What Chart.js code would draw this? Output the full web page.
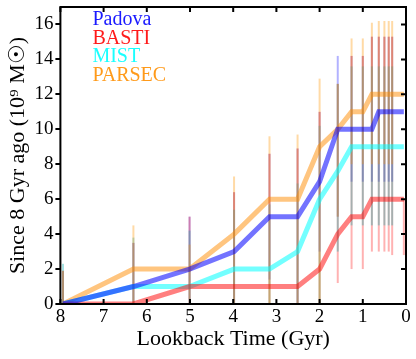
<!DOCTYPE html>
<html>
<head>
<meta charset="utf-8">
<script src="https://cdn.jsdelivr.net/npm/chart.js@4.4.0/dist/chart.umd.min.js"></script>
<style>
  body { margin: 0; background: #fff; }
  #wrap { width: 416px; height: 359px; }
</style>
</head>
<body>
<div id="wrap"><canvas id="sfhChart" width="416" height="359"></canvas></div>
<script>
// lookback time of each bin (Gyr)
var bins = [7.94, 6.31, 5.01, 3.98, 3.16, 2.51, 2.0, 1.58, 1.26, 1.0, 0.79, 0.63, 0.50, 0.40, 0.32, 0.05];

var labels = ["Padova", "BASTI", "MIST", "PARSEC"];

// cumulative mass formed since 8 Gyr ago (1e9 Msun)
var padova = [0, 1, 2, 3, 5, 5, 7, 10, 10, 10, 10, 11, 11, 11, 11, 11];
var basti  = [0, 0, 1, 1, 1, 1, 2, 4, 5, 5, 6, 6, 6, 6, 6, 6];
var mist   = [0, 1, 1, 2, 2, 3, 6, 7.6, 9, 9, 9, 9, 9, 9, 9, 9];
var parsec = [0, 2, 2, 4, 6, 6, 9, 10, 11, 11, 12, 12, 12, 12, 12, 12];

// error bar ranges
var padovaLo = [0, 0, 0, 0, 1.4, 0, 3, 5, 7, 7, 7, 7, 7, 7, 7, null];
var padovaHi = [1.9, 3.5, 5.0, 6.4, 8.6, 8.9, 11.0, 14.2, 14.2, 14.2, 15.3, 15.3, 15.3, 15.3, 15.3, null];
var bastiLo  = [0, 0, 0, 0, 0, 0, 0, 1.2, 2.0, 2.0, 3.0, 3.0, 3.0, 3.0, 2.8, 2.8];
var bastiHi  = [1.9, 3.5, 5.0, 6.4, 8.6, 8.9, 11.0, 12.6, 14.2, 14.2, 15.3, 15.3, 15.3, 15.3, 15.3, 6];
var mistLo   = [0, 0, 0, 0, 0, 0, 0, 3, 4.5, 4.5, 4.5, 4.5, 4.5, 4.5, 4.5, null];
var mistHi   = [2.3, 3.8, 4.2, 5.4, 5.7, 6.9, 10.2, 12.6, 13.6, 13.6, 13.6, 13.6, 13.6, 13.6, 13.6, null];
var parsecLo = [0, 0, 0, 0, 0, 0, 0, 5, 8, 8, 8, 8, 8, 8, 8, null];
var parsecHi = [1.9, 4.5, 3.4, 7.3, 9.6, 9.7, 12.9, 12.6, 15.2, 15.2, 16.1, 16.2, 16.2, 16.2, 16.2, null];

var xTicks = [8, 7, 6, 5, 4, 3, 2, 1, 0];
var yTicks = [0, 2, 4, 6, 8, 10, 12, 14, 16];

var lineColors = ["rgba(0,0,255,0.55)", "rgba(255,0,0,0.5)", "rgba(0,255,255,0.55)", "rgba(255,140,0,0.5)"];
var barColors = ["rgba(0,0,255,0.3)", "rgba(255,0,0,0.3)", "rgba(0,170,170,0.35)", "rgba(255,150,0,0.35)"];
var textColors = ["#1a1aff", "#ff1a1a", "#1affff", "#ff9a1a"];

var serif = "'Liberation Serif', 'DejaVu Serif', serif";

function points(ys) {
    return bins.map(function (b, i) { return { x: b, y: ys[i] }; });
}

var values = [padova, basti, mist, parsec];
var errLo = [padovaLo, bastiLo, mistLo, parsecLo];
var errHi = [padovaHi, bastiHi, mistHi, parsecHi];

// error bars, frame, inward ticks and text legend
var decor = {
    id: "decor",
    beforeDatasetsDraw: function (chart) {
        var ctx = chart.ctx, xs = chart.scales.x, ys = chart.scales.y;
        ctx.save();
        ctx.lineWidth = 2;
        for (var s = 0; s < values.length; s++) {
            ctx.strokeStyle = barColors[s];
            for (var i = 0; i < bins.length; i++) {
                if (errLo[s][i] === null || errHi[s][i] === null) continue;
                var px = xs.getPixelForValue(bins[i]);
                ctx.beginPath();
                ctx.moveTo(px, ys.getPixelForValue(errLo[s][i]));
                ctx.lineTo(px, ys.getPixelForValue(errHi[s][i]));
                ctx.stroke();
            }
        }
        ctx.restore();
    },
    afterDraw: function (chart) {
        var ctx = chart.ctx, a = chart.chartArea, xs = chart.scales.x, ys = chart.scales.y;
        ctx.save();
        ctx.strokeStyle = "#000";
        ctx.lineWidth = 2;
        ctx.strokeRect(a.left, a.top, a.right - a.left, a.bottom - a.top);
        ctx.beginPath();
        xTicks.forEach(function (t) {
            var px = xs.getPixelForValue(t);
            ctx.moveTo(px, a.bottom); ctx.lineTo(px, a.bottom - 5);
            ctx.moveTo(px, a.top); ctx.lineTo(px, a.top + 5);
        });
        yTicks.forEach(function (t) {
            var py = ys.getPixelForValue(t);
            ctx.moveTo(a.right, py); ctx.lineTo(a.right - 5, py);
        });
        ctx.stroke();

        ctx.font = "20px " + serif;
        ctx.textBaseline = "middle";
        for (var i = 0; i < labels.length; i++) {
            ctx.fillStyle = textColors[i];
            ctx.fillText(labels[i], a.left + 32, a.top + 13 + i * 18.5);
        }
        ctx.restore();
    }
};

var datasets = labels.map(function (name, s) {
    return {
        label: name,
        data: points(values[s]),
        borderColor: lineColors[s],
        borderWidth: 5,
        pointRadius: 0,
        fill: false,
        tension: 0
    };
});

new Chart(document.getElementById("sfhChart"), {
    type: "line",
    data: { datasets: datasets },
    options: {
        responsive: false,
        animation: false,
        layout: { padding: { top: 7, right: 10, left: 0, bottom: 9 } },
        plugins: { legend: { display: false }, tooltip: { enabled: false } },
        scales: {
            x: {
                type: "linear",
                reverse: true,
                min: 0,
                max: 8,
                grid: { display: false, drawTicks: false },
                border: { display: false },
                afterBuildTicks: function (axis) {
                    axis.ticks = xTicks.map(function (v) { return { value: v }; });
                },
                ticks: { color: "#000", padding: 4, font: { family: serif, size: 19, lineHeight: 1 } },
                title: {
                    display: true,
                    text: "Lookback Time (Gyr)",
                    color: "#000",
                    padding: { top: -3, bottom: 0 },
                    font: { family: serif, size: 22, lineHeight: 1 }
                }
            },
            y: {
                min: 0,
                max: 17,
                grid: { drawOnChartArea: false, tickLength: 5, color: "#000", lineWidth: 2 },
                border: { display: false },
                afterBuildTicks: function (axis) {
                    axis.ticks = yTicks.map(function (v) { return { value: v }; });
                },
                afterFit: function (axis) {
                    axis.paddingTop = 0;
                    axis.paddingBottom = 0;
                },
                ticks: { color: "#000", padding: 2, font: { family: serif, size: 19 } },
                title: {
                    display: true,
                    text: "Since 8 Gyr ago (10\u2079 M\u2609)",
                    color: "#000",
                    padding: { top: 5, bottom: 1 },
                    font: { family: serif, size: 22 }
                }
            }
        }
    },
    plugins: [decor]
});
</script>
</body>
</html>
